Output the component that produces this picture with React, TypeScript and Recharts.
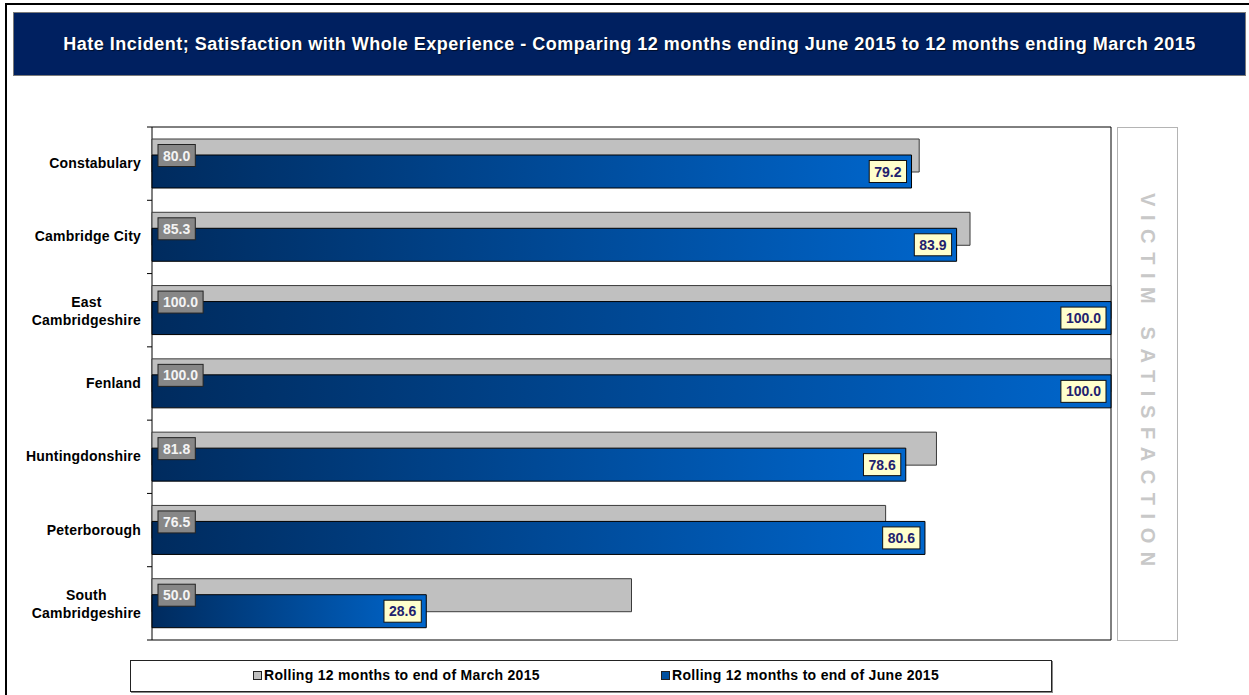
import { BarChart, Bar, XAxis, YAxis, LabelList, ReferenceArea } from 'recharts';

// 구역 / 시리즈 값
const areas = [
  'Constabulary',
  'Cambridge City',
  'East Cambridgeshire',
  'Fenland',
  'Huntingdonshire',
  'Peterborough',
  'South Cambridgeshire',
];
const march2015 = [80.0, 85.3, 100.0, 100.0, 81.8, 76.5, 50.0];
const june2015 = [79.2, 83.9, 100.0, 100.0, 78.6, 80.6, 28.6];
const seriesNames = [
  'Rolling 12 months to end of March 2015',
  'Rolling 12 months to end of June 2015',
];
const boundaryTicks = [0, 1, 2, 3, 4, 5, 6, 7];

const chartTitle =
  'Hate Incident; Satisfaction with Whole Experience - Comparing 12 months ending June 2015 to 12 months ending March 2015';
const sideTitle = 'VICTIM SATISFACTION';

const rows = areas.map((area, i) => ({
  area,
  march: march2015[i],
  june: june2015[i],
}));

const FONT = 'Arial, "Liberation Sans", sans-serif';
const BAR_SIZE = 33;
const BAR_GAP = -17;
const STEP = BAR_SIZE + BAR_GAP;
const TICK_MARGIN = 11;

// 대략적인 텍스트 폭 (14px bold)
const valueWidth = (s: string) =>
  s.split('').reduce((w, ch) => w + (ch === '.' ? 3.9 : 7.8), 0);

// 축 라벨: 긴 이름은 두 줄로 + 구간 경계 눈금
const AreaTick = (props: any) => {
  const { x, y, payload, index, visibleTicksCount } = props;
  const text = String(payload.value);
  const half = Number(payload.offset) || 0;
  const edgeX = x + TICK_MARGIN;
  const lines =
    text.length > 15
      ? [text.slice(0, text.indexOf(' ')), text.slice(text.indexOf(' ') + 1)]
      : [text];
  const widest = Math.max(...lines.map((l) => l.length)) * 7.8;
  const cx = x - widest / 2;
  return (
    <g>
      {half > 0 && <line x1={edgeX - 5} x2={edgeX} y1={y - half} y2={y - half} stroke="#000" />}
      {half > 0 && index === visibleTicksCount - 1 && (
        <line x1={edgeX - 5} x2={edgeX} y1={y + half} y2={y + half} stroke="#000" />
      )}
      {lines.length === 1 ? (
        <text x={x} y={y} dy={4.5} textAnchor="end" fontSize={14} fontWeight="bold" fill="#000" fontFamily={FONT} letterSpacing={0.2}>
          {text}
        </text>
      ) : (
        <text x={cx} y={y} textAnchor="middle" fontSize={14} fontWeight="bold" fill="#000" fontFamily={FONT} letterSpacing={0.2}>
          {lines.map((l, i) => (
            <tspan key={i} x={cx} dy={i === 0 ? -3 : 18}>
              {l}
            </tspan>
          ))}
        </text>
      )}
    </g>
  );
};

// 3월 라벨 (회색 막대 시작점) - 파란 막대 위에 그려지도록 june Bar에 붙임
const MarchLabel = (props: any) => {
  const vb = props.viewBox ?? props;
  const { x, y } = vb;
  const text = Number(props.value).toFixed(1);
  const w = valueWidth(text) + 10;
  const cy = y - STEP + BAR_SIZE / 2;
  return (
    <g>
      <rect x={x + 6} y={cy - 11} width={w} height={22} fill="#878787" stroke="#222" strokeWidth={1} />
      <text x={x + 6 + w / 2} y={cy} dy={5} textAnchor="middle" fontSize={14} fontWeight="bold" fill="#f4f4f4" fontFamily={FONT}>
        {text}
      </text>
    </g>
  );
};

// 6월 라벨 (파란 막대 끝)
const JuneLabel = (props: any) => {
  const vb = props.viewBox ?? props;
  const { x, y, width, height } = vb;
  const text = Number(props.value).toFixed(1);
  const w = valueWidth(text) + 10;
  const right = x + width - 5;
  const cy = y + height / 2;
  return (
    <g>
      <rect x={right - w} y={cy - 11} width={w} height={22} fill="#ffffcc" stroke="#111" strokeWidth={1} />
      <text x={right - w / 2} y={cy} dy={5} textAnchor="middle" fontSize={14} fontWeight="bold" fill="#22226e" fontFamily={FONT}>
        {text}
      </text>
    </g>
  );
};

export default function App() {
  return (
    <div
      style={{
        position: 'relative',
        width: 1249,
        height: 695,
        background: '#fff',
        overflow: 'hidden',
        fontFamily: FONT,
      }}
    >
      <style>{'body{margin:0}'}</style>

      {/* 바깥 테두리 */}
      <div
        style={{
          position: 'absolute',
          left: 5,
          top: 3,
          width: 1260,
          height: 720,
          borderLeft: '2px solid #000',
          borderTop: '2px solid #000',
        }}
      />

      {/* 제목 */}
      <div
        style={{
          position: 'absolute',
          left: 13,
          top: 12,
          width: 1231,
          height: 62,
          background: '#002060',
          border: '1px solid #7a7a7a',
          color: '#fff',
          fontWeight: 'bold',
          fontSize: 18,
          letterSpacing: 0.5,
          display: 'flex',
          alignItems: 'center',
          justifyContent: 'center',
          textShadow: '1px 1px 1px rgba(0,0,0,0.6)',
          whiteSpace: 'nowrap',
        }}
      >
        {chartTitle}
      </div>

      <div style={{ position: 'absolute', left: 0, top: 0 }}>
        <BarChart
          width={1249}
          height={695}
          data={rows}
          layout="vertical"
          margin={{ top: 127, right: 138, bottom: 55, left: 0 }}
          barSize={BAR_SIZE}
          barGap={BAR_GAP}
          barCategoryGap={0}
        >
          <defs>
            <linearGradient id="juneFill" x1="0" y1="0" x2="1" y2="0">
              <stop offset="0%" stopColor="#002b5e" />
              <stop offset="100%" stopColor="#0066cc" />
            </linearGradient>
          </defs>
          <XAxis type="number" domain={[0, 100]} hide />
          {/* 구간 경계 눈금 (플롯 바로 옆) */}
          <YAxis
            yAxisId="edge"
            type="number"
            domain={[0, 7]}
            ticks={boundaryTicks}
            width={1}
            tick={false}
            tickSize={5}
            axisLine={false}
            tickLine={{ stroke: '#000' }}
          />
          <YAxis
            yAxisId="cat"
            type="category"
            dataKey="area"
            width={151}
            tickSize={0}
            tickMargin={TICK_MARGIN}
            tickLine={false}
            axisLine={false}
            interval={0}
            tick={<AreaTick />}
          />
          <Bar yAxisId="cat" dataKey="march" name={seriesNames[0]} fill="#c0c0c0" stroke="#3a3a3a" isAnimationActive={false} />
          <Bar yAxisId="cat" dataKey="june" name={seriesNames[1]} fill="url(#juneFill)" stroke="#000" isAnimationActive={false}>
            <LabelList dataKey="march" content={MarchLabel} />
            <LabelList dataKey="june" content={JuneLabel} />
          </Bar>
          <ReferenceArea yAxisId="cat" x1={0} x2={100} fill="none" stroke="#000" strokeWidth={1} ifOverflow="visible" />
        </BarChart>
      </div>

      {/* 오른쪽 세로 제목 패널 */}
      <div
        style={{
          position: 'absolute',
          left: 1117,
          top: 127,
          width: 59,
          height: 512,
          border: '1px solid #b4b4b4',
          display: 'flex',
          alignItems: 'center',
          justifyContent: 'center',
        }}
      >
        <div
          style={{
            writingMode: 'vertical-rl',
            color: '#c8c8c8',
            fontSize: 20,
            fontWeight: 'bold',
            letterSpacing: 8.6,
            whiteSpace: 'nowrap',
          }}
        >
          {sideTitle}
        </div>
      </div>

      {/* 범례 */}
      <div
        style={{
          position: 'absolute',
          left: 130,
          top: 660,
          width: 920,
          height: 30,
          border: '1px solid #222',
          boxShadow: '1px 1px 0 #888',
          fontSize: 14,
          letterSpacing: 0.3,
          fontWeight: 'bold',
          color: '#000',
        }}
      >
        {seriesNames.map((name, i) => (
          <div
            key={name}
            style={{
              position: 'absolute',
              left: i === 0 ? 122 : 530,
              top: 6,
              display: 'flex',
              alignItems: 'center',
              whiteSpace: 'nowrap',
            }}
          >
            <span
              style={{
                display: 'inline-block',
                width: 7,
                height: 7,
                marginRight: 2,
                background: i === 0 ? '#c0c0c0' : '#0050a0',
                border: '1px solid #222',
              }}
            />
            {name}
          </div>
        ))}
      </div>
    </div>
  );
}
